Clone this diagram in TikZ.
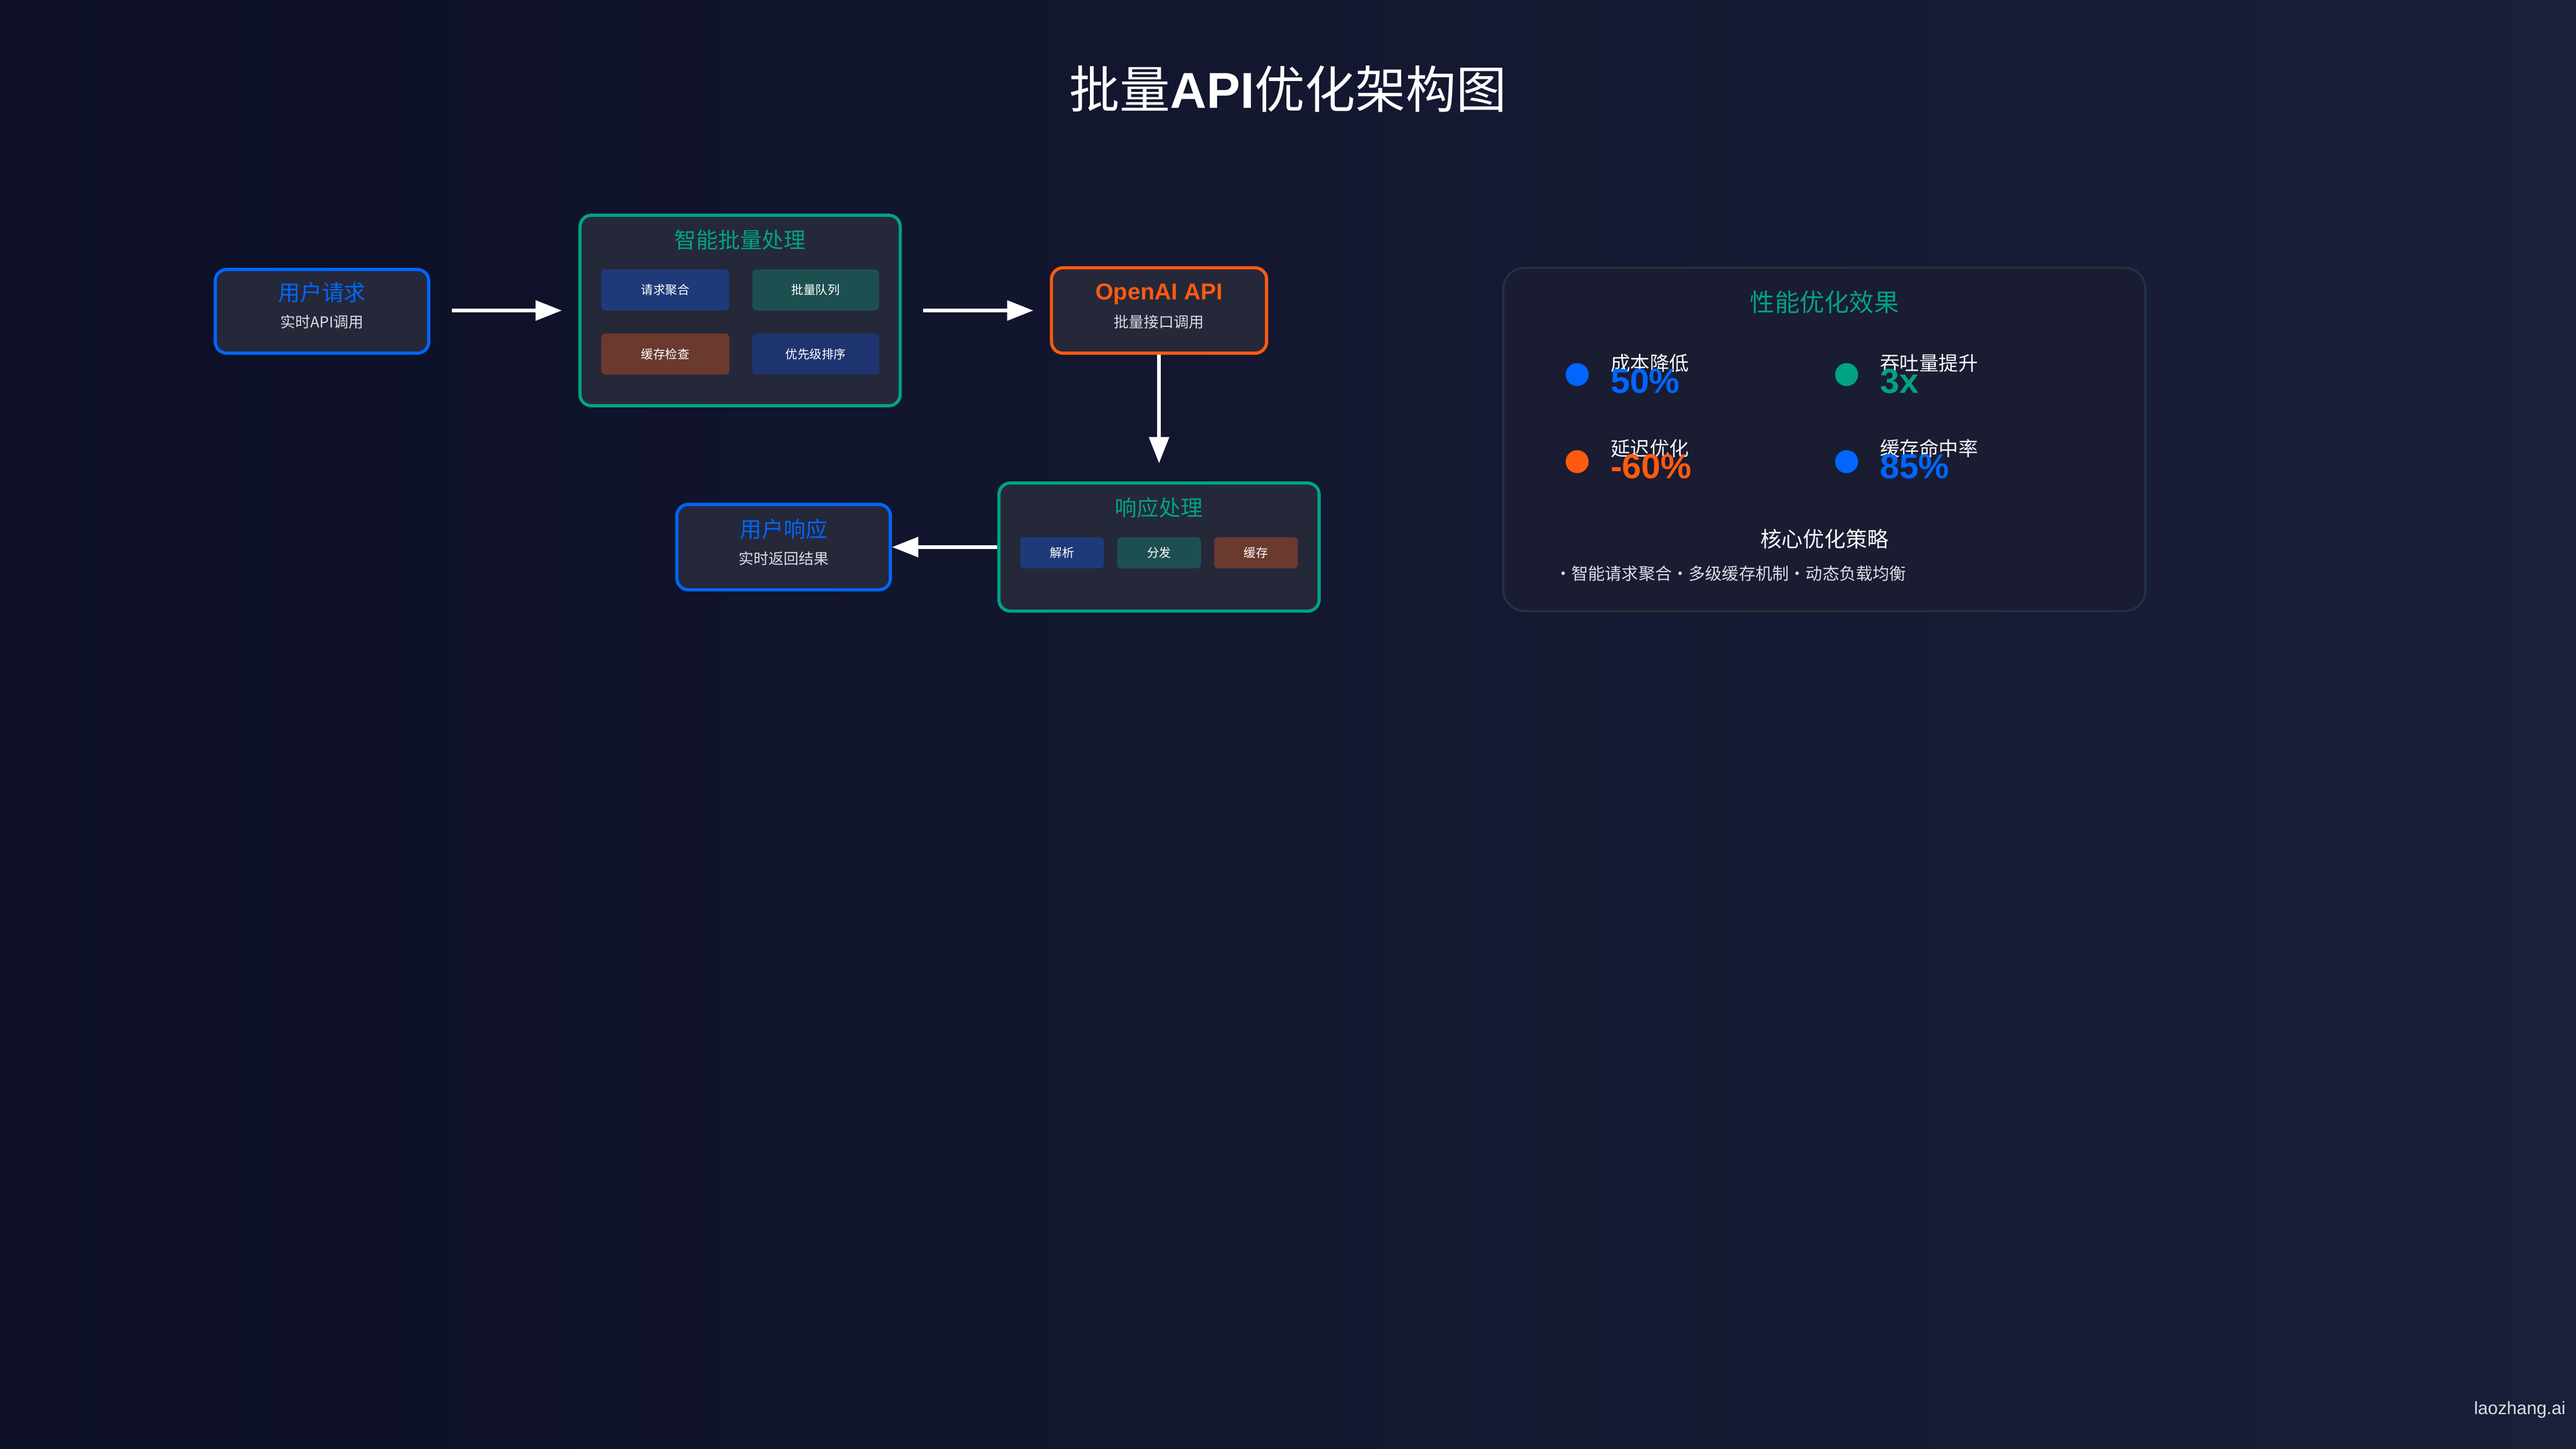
\documentclass[tikz,border=0pt]{standalone}
\usepackage{fontspec}
\setmainfont{Noto Sans CJK SC}
\newfontfamily\latinb{Liberation Sans}
\usetikzlibrary{arrows.meta,positioning}
\definecolor{bgA}{HTML}{0C0F26}
\definecolor{bgB}{HTML}{1A1F3A}
\definecolor{boxfill}{HTML}{252839}
\definecolor{cblue}{HTML}{0066FF}
\definecolor{cgreen}{HTML}{00A383}
\definecolor{corange}{HTML}{FF5A10}
\definecolor{sblue}{HTML}{1E3A78}
\definecolor{steal}{HTML}{1E4F50}
\definecolor{sbrown}{HTML}{6A3A2E}
\definecolor{sblue2}{HTML}{1E3470}
\definecolor{panelfill}{HTML}{1A1C32}
\definecolor{panelline}{HTML}{1F3340}
\definecolor{subtxt}{HTML}{DDDDE4}
\tikzset{
  x=0.02cm,y=-0.02cm,
  mainbox/.style={draw,line width=1.1pt,rounded corners=0.14cm,fill=boxfill,inner sep=0pt},
  small/.style={rounded corners=0.05cm,inner sep=0pt,text=white,font=\fontsize{4.2}{5}\selectfont},
  btitle/.style={font=\fontsize{7.6}{9}\selectfont},
  bsub/.style={font=\fontsize{5.2}{6}\selectfont,text=subtxt},
  flow/.style={draw=white,line width=1.2pt,-{Triangle[length=0.32cm,width=0.24cm]}},
  dot/.style={circle,minimum size=0.28cm,inner sep=0pt},
  slabel/.style={anchor=west,text=white,font=\fontsize{6.8}{8}\selectfont,inner sep=0pt},
  snum/.style={anchor=west,font=\latinb\bfseries\fontsize{12}{13}\selectfont,inner sep=0pt},
}
\begin{document}
\begin{tikzpicture}
\shade[left color=bgA,right color=bgB] (0,0) rectangle (1568,882);
\useasboundingbox (0,0) rectangle (1568,882);
\node[text=white,font=\fontsize{17.5}{20}\selectfont] (title) at (784,54) {批量\textbf{\latinb API}优化架构图};

% user request
\node[mainbox,draw=cblue,minimum width=2.6cm,minimum height=1.02cm] (req) at (196,189.5) {};
\node[btitle,text=cblue] (reqt) at (196,178) {用户请求};
\node[bsub] (reqs) at (196,196) {实时API调用};

% batch
\node[mainbox,draw=cgreen,minimum width=3.9cm,minimum height=2.32cm] (batch) at (450.5,189) {};
\node[btitle,text=cgreen] (batcht) at (450.5,146) {智能批量处理};
\node[small,fill=sblue,minimum width=1.56cm,minimum height=0.5cm] (b1) at (405,176.5) {请求聚合};
\node[small,fill=steal,minimum width=1.54cm,minimum height=0.5cm] (b2) at (496.5,176.5) {批量队列};
\node[small,fill=sbrown,minimum width=1.56cm,minimum height=0.5cm] (b3) at (405,215.5) {缓存检查};
\node[small,fill=sblue2,minimum width=1.54cm,minimum height=0.5cm] (b4) at (496.5,215.5) {优先级排序};

% openai
\node[mainbox,draw=corange,minimum width=2.62cm,minimum height=1.04cm] (oai) at (705.5,189) {};
\node[font=\latinb\bfseries\fontsize{8}{9}\selectfont,text=corange] (oait) at (705.5,179) {OpenAI API};
\node[bsub] (oais) at (705.5,196) {批量接口调用};

% response processing
\node[mainbox,draw=cgreen,minimum width=3.9cm,minimum height=1.56cm] (resp) at (705.5,333) {};
\node[btitle,text=cgreen] (respt) at (705.5,309) {响应处理};
\node[small,fill=sblue,minimum width=1.02cm,minimum height=0.38cm] (r1) at (646.5,336.5) {解析};
\node[small,fill=steal,minimum width=1.02cm,minimum height=0.38cm] (r2) at (705.5,336.5) {分发};
\node[small,fill=sbrown,minimum width=1.02cm,minimum height=0.38cm] (r3) at (764.5,336.5) {缓存};

% user response
\node[mainbox,draw=cblue,minimum width=2.6cm,minimum height=1.04cm] (uresp) at (477,333) {};
\node[btitle,text=cblue] (urespt) at (477,322) {用户响应};
\node[bsub] (uresps) at (477,340) {实时返回结果};

% arrows
\coordinate (a1s) at (275,189); \coordinate (a1e) at (342,189);
\coordinate (a2s) at (562,189); \coordinate (a2e) at (629,189);
\coordinate (a3e) at (705.5,282);
\draw[flow] (a1s) -- (a1e);
\draw[flow] (a2s) -- (a2e);
\draw[flow] (oai.south) -- (a3e);
\draw[flow] (resp.west) -- (uresp.east);

% panel
\node[draw=panelline,line width=0.8pt,fill=panelfill,rounded corners=0.26cm,minimum width=7.82cm,minimum height=4.18cm,inner sep=0pt] (panel) at (1110.5,267.5) {};
\node[text=cgreen,font=\fontsize{8.6}{10}\selectfont] (pt) at (1110.5,184) {性能优化效果};

\node[dot,fill=cblue] (d1) at (960,228) {};
\node[slabel] (l1) at (980,221) {成本降低};
\node[snum,text=cblue] (n1) at (980,232) {50\%};
\node[dot,fill=cgreen] (d2) at (1124,228) {};
\node[slabel] (l2) at (1144,221) {吞吐量提升};
\node[snum,text=cgreen] (n2) at (1144,232) {3x};
\node[dot,fill=corange] (d3) at (960,281) {};
\node[slabel] (l3) at (980,273) {延迟优化};
\node[snum,text=corange] (n3) at (980,284) {-60\%};
\node[dot,fill=cblue] (d4) at (1124,281) {};
\node[slabel] (l4) at (1144,273) {缓存命中率};
\node[snum,text=cblue] (n4) at (1144,284) {85\%};

\node[text=white,font=\fontsize{7.4}{9}\selectfont] (core) at (1110.5,328) {核心优化策略};
\node[text=subtxt,font=\fontsize{5.8}{7}\selectfont,anchor=west,inner sep=0pt] (strat) at (946,349) {·智能请求聚合·多级缓存机制·动态负载均衡};

\node[text=subtxt,font=\latinb\fontsize{6.2}{7}\selectfont,anchor=east,inner sep=0pt] (wm) at (1562,858) {laozhang.ai};
\end{tikzpicture}
\end{document}
